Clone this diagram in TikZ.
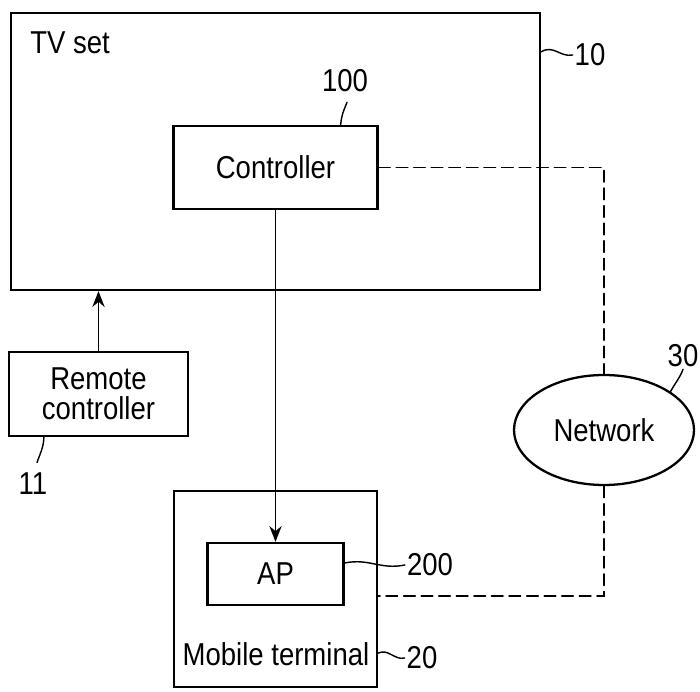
\documentclass[tikz,border=0pt]{standalone}
\usepackage{fontspec}
\setmainfont[FakeStretch=0.87]{Liberation Sans}
\usetikzlibrary{arrows.meta, calc, shapes.geometric}

\begin{document}
\begin{tikzpicture}[line cap=round,
  every node/.append style={font=\fontsize{18}{17}\selectfont},
  box/.style={draw, rectangle, line width=1.3pt, inner sep=0},
  link/.style={line width=1pt, -{Stealth[length=9pt, width=7pt]}},
  net/.style={line width=1pt, dash pattern=on 6.5pt off 3.5pt},
  lead/.style={line width=0.8pt},
  tag/.style={inner sep=1pt}]

  \useasboundingbox (0,0) rectangle (14,13.82);

  % blocks
  \node[box, minimum width=10.58cm, minimum height=5.54cm] (tv) at (5.51,10.79) {};
  \node[box, minimum width=4.08cm, minimum height=1.66cm] (ctrl) at (5.51,10.47) {Controller};
  \node[box, minimum width=3.58cm, minimum height=1.68cm, align=center] (remote) at (1.97,5.94) {Remote\\controller};
  \node[box, minimum width=4.06cm, minimum height=3.92cm] (mobile) at (5.51,2.04) {};
  \node[box, minimum width=2.72cm, minimum height=1.24cm] (ap) at (5.51,2.34) {AP};
  \node[draw, ellipse, line width=1.3pt, minimum width=3.6cm, minimum height=2.2cm, inner sep=0] (network) at (12.08,5.22) {Network};

  \node[anchor=west, inner sep=0] (tvname) at (0.6,12.96) {TV set};
  \node (mobname) at (5.52,0.74) {Mobile terminal};

  % reference numerals
  \node[tag] (l10) at (11.8,12.72) {10};
  \node[tag] (l100) at (6.9,12.2) {100};
  \node[tag] (l30) at (13.66,6.7) {30};
  \node[tag] (l11) at (0.66,4.14) {11};
  \node[tag] (l200) at (8.6,2.52) {200};
  \node[tag] (l20) at (8.44,0.66) {20};

  \coordinate (tvport) at ($ (tv.north east)+(0,-0.8) $);
  \coordinate (ctrlport) at ($ (ctrl.north east)+(-0.76,0) $);
  \coordinate (remport) at ($ (remote.south west)+(0.72,0) $);
  \coordinate (l11top) at ($ (l11.north)+(0.08,0.17) $);
  \coordinate (apport) at ($ (ap.east)+(0,0.22) $);
  \coordinate (mobport) at ($ (mobile.east)+(0,-0.14) $);
  \coordinate (mobtag) at ($ (mobile.south east)+(0,0.7) $);
  \coordinate (l100bot) at ($ (l100.south)+(0.04,-0.16) $);

  % connections
  \draw[link] (remote.north) -- (remote.north |- tv.south);
  \draw[link] (ctrl.south) -- (ap.north);
  \draw[net] (ctrl.east) -| (network.north);
  \draw[net] (network.south) |- (mobport);

  % leaders
  \draw[lead] (tvport) .. controls +(0.25,0.15) and +(-0.25,-0.05) .. (l10.west);
  \draw[lead] (ctrlport) .. controls +(0.02,0.2) and +(-0.08,-0.2) .. (l100bot);
  \draw[lead] (network.30) .. controls +(0.08,0.15) and +(-0.05,-0.15) .. (l30.south);
  \draw[lead] (remport) .. controls +(0,-0.2) and +(0.05,0.15) .. (l11top);
  \draw[lead] (apport) .. controls +(0.5,0.1) and +(-0.5,-0.1) .. (l200.west);
  \draw[lead] (mobtag) .. controls +(0.2,0.1) and +(-0.2,-0.05) .. (l20.west);

\end{tikzpicture}
\end{document}
